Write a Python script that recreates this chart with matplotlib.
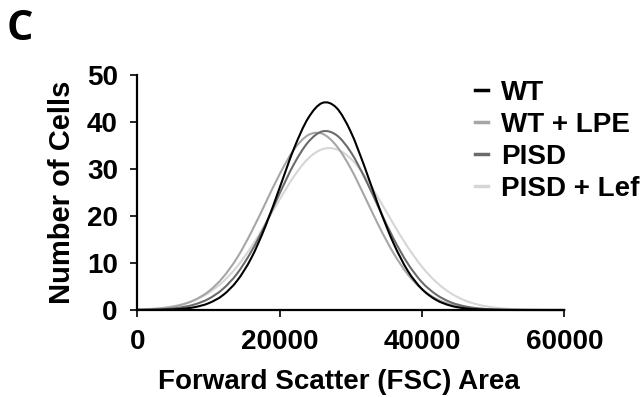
import matplotlib
matplotlib.use("Agg")
import matplotlib.pyplot as plt
from matplotlib.path import Path
from matplotlib.patches import PathPatch
from matplotlib.lines import Line2D

plt.rcParams['font.family'] = ['Liberation Sans', 'DejaVu Sans']
plt.rcParams['font.weight'] = 'bold'

# Forward scatter area (bin centres) and cell counts per group
fsc_area = [0, 2000, 4000, 6000, 8000, 10000, 12000, 14000, 16000, 18000,
            20000, 22000, 24000, 26000, 28000, 30000, 32000, 34000, 36000, 38000,
            40000, 42000, 44000, 46000, 48000, 50000, 52000, 54000, 56000, 58000, 60000]

wt = [0.01, 0.02, 0.08, 0.22, 0.59, 1.43, 3.12, 6.18, 11.0, 17.8,
      26.0, 34.3, 40.8, 44.06, 43.0, 37.9, 30.2, 21.7, 14.2, 8.35,
      4.45, 2.14, 0.93, 0.36, 0.13, 0.04, 0.01, 0.0, 0.0, 0.0, 0.0]

wt_lpe = [0.08, 0.20, 0.46, 1.02, 2.09, 3.93, 6.87, 11.05, 16.5, 22.7,
          28.9, 34.1, 37.2, 37.5, 34.9, 30.1, 24.0, 17.7, 12.1, 7.6,
          4.42, 2.39, 1.19, 0.55, 0.23, 0.09, 0.03, 0.01, 0.0, 0.0, 0.0]

pisd = [0.03, 0.08, 0.22, 0.52, 1.16, 2.36, 4.44, 7.7, 12.4, 18.2,
        24.8, 31.0, 35.7, 38.0, 37.2, 33.6, 28.0, 21.5, 15.2, 9.9,
        5.9, 3.29, 1.67, 0.79, 0.34, 0.14, 0.05, 0.02, 0.01, 0.0, 0.0]

pisd_lef = [0.12, 0.26, 0.55, 1.10, 2.05, 3.61, 5.95, 9.2, 13.4, 18.3,
            23.5, 28.4, 32.2, 34.2, 34.2, 32.2, 28.4, 23.5, 18.3, 13.4,
            9.2, 5.95, 3.61, 2.05, 1.10, 0.55, 0.26, 0.12, 0.05, 0.02, 0.01]

labels = ["WT", "WT + LPE", "PISD", "PISD + Lef"]
colors = ["#000000", "#a6a6a6", "#6b6b6b", "#d6d6d6"]
x_ticks = [0, 20000, 40000, 60000]
y_ticks = [0, 10, 20, 30, 40, 50]


def smooth_path(xs, ys):
    """Catmull-Rom style cubic Bezier path through the given points."""
    pts = list(zip(xs, ys))
    n = len(pts)
    verts = [pts[0]]
    codes = [Path.MOVETO]
    for i in range(n - 1):
        p0 = pts[i - 1] if i > 0 else pts[i]
        p1 = pts[i]
        p2 = pts[i + 1]
        p3 = pts[i + 2] if i + 2 < n else pts[i + 1]
        c1 = (p1[0] + (p2[0] - p0[0]) / 6.0, p1[1] + (p2[1] - p0[1]) / 6.0)
        c2 = (p2[0] - (p3[0] - p1[0]) / 6.0, p2[1] - (p3[1] - p1[1]) / 6.0)
        verts += [c1, c2, p2]
        codes += [Path.CURVE4] * 3
    return Path(verts, codes)


fig = plt.figure(figsize=(6.42, 3.97), dpi=100)
ax = fig.add_axes([137.3 / 642, 87 / 397, 427 / 642, 235 / 397])

series = [wt, wt_lpe, pisd, pisd_lef]
# draw light curves first so the darker ones sit on top
for idx in [3, 1, 2, 0]:
    patch = PathPatch(smooth_path(fsc_area, series[idx]), facecolor='none',
                      edgecolor=colors[idx], lw=1.5, capstyle='round',
                      joinstyle='round', clip_on=False)
    ax.add_patch(patch)

ax.set_xlim(0, 60000)
ax.set_ylim(0, 50)
ax.set_xticks(x_ticks)
ax.set_xticklabels([str(t) for t in x_ticks])
ax.set_yticks(y_ticks)
ax.set_yticklabels([str(t) for t in y_ticks])

for side in ['top', 'right']:
    ax.spines[side].set_visible(False)
for side in ['left', 'bottom']:
    ax.spines[side].set_linewidth(1.6)
    ax.spines[side].set_zorder(5)

ax.tick_params(axis='both', direction='out', length=5, width=1.2,
               labelsize=20)
ax.tick_params(axis='x', pad=9)
ax.tick_params(axis='y', pad=9)
for lab in ax.get_xticklabels() + ax.get_yticklabels():
    lab.set_fontweight('bold')

ax.set_xlabel("Forward Scatter (FSC) Area", fontsize=20, fontweight='bold')
ax.xaxis.label.set_va('center')
ax.xaxis.set_label_coords(339 / 642, 1 - 382 / 397, transform=fig.transFigure)
ax.set_ylabel("Number of Cells", fontsize=21, fontweight='bold')
ax.yaxis.label.set_va('center')
ax.yaxis.set_label_coords(62 / 642, 1 - 192 / 397, transform=fig.transFigure)

handles = [Line2D([], [], color=c, lw=2.5) for c in colors]
leg = fig.legend(handles, labels, loc='upper left',
                 bbox_to_anchor=(475 / 642, 1 - 80 / 397),
                 frameon=False, fontsize=20, handlelength=0.45,
                 handletextpad=0.5, labelspacing=0.21, borderpad=0,
                 borderaxespad=0)
for t in leg.get_texts():
    t.set_fontweight('bold')

fig.text(20 / 642, 1 - 29 / 397, "C", fontsize=30, fontweight='bold',
         family=['Open Sans', 'DejaVu Sans'], ha='center', va='center')

fig.savefig("out.png", dpi=100)
